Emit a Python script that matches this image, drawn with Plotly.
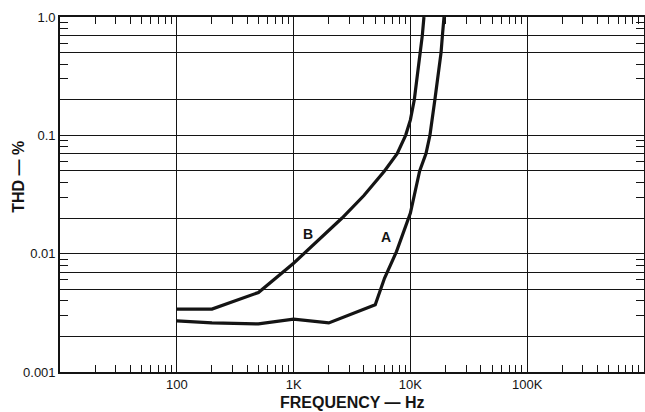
"""
THD vs frequency chart
Plotly recreation
"""

import math

import plotly.graph_objects as go

# ==========================================================
# DATA
# ==========================================================

freq_a = [100, 200, 500, 1000, 2000, 5000, 6000, 7600, 10000,
          12000, 13600, 14700, 16200, 18300, 18800, 19400]
thd_a = [0.0027, 0.0026, 0.00255, 0.0028, 0.0026, 0.0037, 0.0062, 0.0104, 0.022,
         0.050, 0.070, 0.100, 0.200, 0.500, 0.700, 1.0]

freq_b = [100, 200, 500, 1000, 2600, 4000, 6000, 7700, 9100,
          10000, 10800, 12250, 12650, 13060]
thd_b = [0.0034, 0.0034, 0.0047, 0.0083, 0.020, 0.031, 0.050, 0.070, 0.100,
         0.135, 0.200, 0.500, 0.700, 1.0]

x_grid = [100, 1000, 10000, 100000]
x_labels = ["100", "1K", "10K", "100K"]
x_minor = [m * 10 ** d for d in range(1, 6) for m in range(2, 10)]

y_grid = [0.001, 0.002, 0.005, 0.007, 0.01, 0.02, 0.05, 0.07,
          0.1, 0.2, 0.5, 0.7, 1.0]
y_labels = ["0.001", "", "", "", "0.01", "", "", "",
            "0.1", "", "", "", "1.0"]
y_minor = [m * 10.0 ** d for d in range(-3, 0) for m in (3, 4, 6, 8, 9)]

curve_names = ["A", "B"]
label_freq = [6160, 1330]
label_thd = [0.0138, 0.0147]

INK = "#141414"
FONT = "Liberation Sans"

# ==========================================================
# FIGURE
# ==========================================================

fig = go.Figure()

for fx, fy, name in [(freq_a, thd_a, "A"), (freq_b, thd_b, "B")]:

    fig.add_trace(

        go.Scatter(
            x=fx,
            y=fy,
            mode="lines",
            name=name,
            line=dict(color=INK, width=3.2),
            showlegend=False
        )

    )

# empty trace so the mirrored top / right axes get drawn
fig.add_trace(
    go.Scatter(
        x=[None], y=[None],
        xaxis="x2", yaxis="y2",
        showlegend=False,
        hoverinfo="skip"
    )
)

for name, lx, ly in zip(curve_names, label_freq, label_thd):

    fig.add_annotation(
        x=math.log10(lx),
        y=math.log10(ly),
        text="<b>" + name + "</b>",
        showarrow=False,
        font=dict(family=FONT, size=14, color=INK)
    )

fig.add_annotation(
    text="<b>FREQUENCY — Hz</b>",
    xref="paper", yref="paper",
    x=0.5, y=-0.087,
    yanchor="middle",
    showarrow=False,
    font=dict(family=FONT, size=16, color=INK)
)

fig.add_annotation(
    text="<b>THD — %</b>",
    xref="paper", yref="paper",
    x=-0.07, y=0.55,
    xanchor="center", yanchor="middle",
    textangle=-90,
    showarrow=False,
    font=dict(family=FONT, size=16, color=INK)
)

# ==========================================================
# AXES
# ==========================================================

axis_common = dict(
    showline=True,
    linecolor=INK,
    linewidth=1.6,
    showgrid=True,
    gridcolor=INK,
    gridwidth=1.3,
    ticks="",
    zeroline=False,
    automargin=False,
    tickfont=dict(family=FONT, size=13, color=INK)
)

minor_x = dict(
    tickmode="array",
    tickvals=x_minor,
    ticks="inside",
    ticklen=7,
    tickwidth=1.3,
    tickcolor=INK,
    showgrid=False
)

minor_y = dict(
    tickmode="array",
    tickvals=y_minor,
    ticks="inside",
    ticklen=8,
    tickwidth=1.3,
    tickcolor=INK,
    showgrid=False
)

fig.update_layout(

    xaxis=dict(
        type="log",
        range=[1, 6],
        tickmode="array",
        tickvals=x_grid,
        ticktext=x_labels,
        minor=minor_x,
        **axis_common
    ),

    yaxis=dict(
        type="log",
        range=[-3, 0],
        tickmode="array",
        tickvals=y_grid,
        ticktext=y_labels,
        minor=minor_y,
        **axis_common
    ),

    xaxis2=dict(
        type="log",
        range=[1, 6],
        overlaying="x",
        side="top",
        anchor="y",
        showline=True,
        linecolor=INK,
        linewidth=1.6,
        showgrid=False,
        showticklabels=False,
        ticks="",
        tickvals=[],
        automargin=False,
        minor=minor_x
    ),

    yaxis2=dict(
        type="log",
        range=[-3, 0],
        overlaying="y",
        side="right",
        anchor="x",
        showline=True,
        linecolor=INK,
        linewidth=1.6,
        showgrid=False,
        showticklabels=False,
        ticks="",
        tickvals=[],
        automargin=False,
        minor=minor_y
    ),

    width=645,
    height=412,
    margin=dict(l=60, r=1, t=17, b=40),
    paper_bgcolor="white",
    plot_bgcolor="white"

)

# drop the browser's default 8px body margin so the figure fills the window
fig.write_html(
    "out.html",
    config={"displayModeBar": False},
    post_script="document.body.style.margin='0';"
                "document.documentElement.style.overflow='hidden';"
)
